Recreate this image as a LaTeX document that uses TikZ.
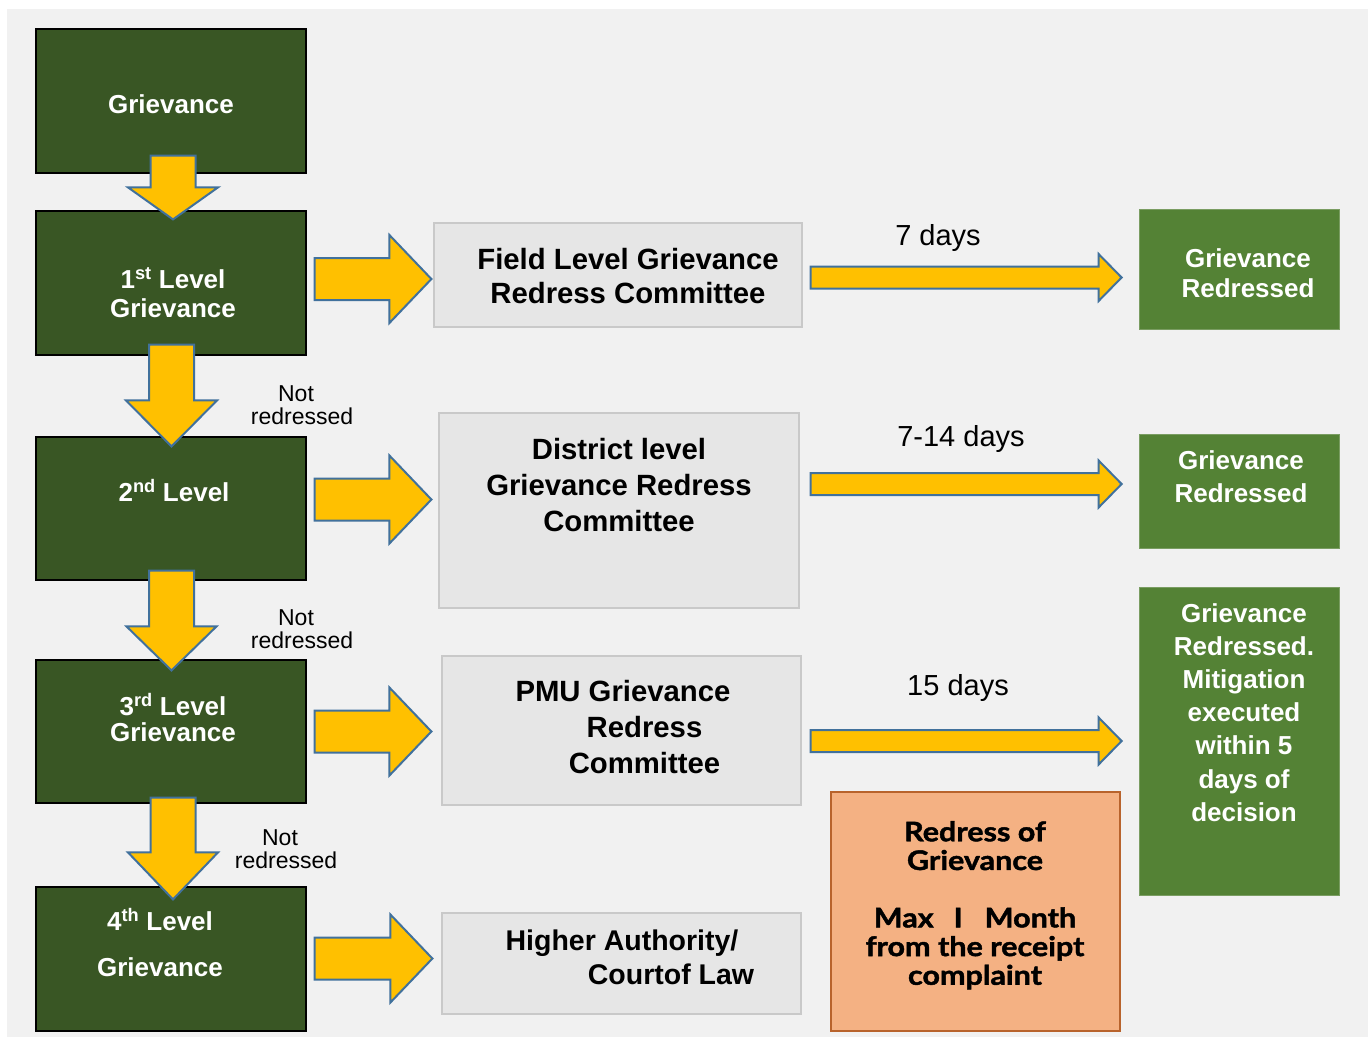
\documentclass[tikz,border=0pt]{standalone}
\usepackage{fontspec}
\setmainfont{Liberation Sans}
\newfontfamily\gillish[FakeStretch=1.13, BoldFeatures={FakeBold=1.6}]{Lato}
\usetikzlibrary{calc}
\definecolor{panel}{HTML}{F1F1F1}
\definecolor{dkgreen}{HTML}{395624}
\definecolor{ltgreen}{HTML}{548235}
\definecolor{ltgreenb}{HTML}{7A9D62}
\definecolor{grayfill}{HTML}{E6E6E6}
\definecolor{grayline}{HTML}{C9C9C9}
\definecolor{arrowfill}{HTML}{FFC000}
\definecolor{arrowline}{HTML}{41719C}
\definecolor{orangefill}{HTML}{F4B183}
\definecolor{orangeline}{HTML}{B8632C}
\tikzset{
  dgbox/.style={rectangle, draw=black, line width=1.2pt, fill=dkgreen, inner sep=0pt},
  lgbox/.style={rectangle, draw=ltgreenb, line width=0.8pt, fill=ltgreen, inner sep=0pt},
  gybox/.style={rectangle, draw=grayline, line width=1.2pt, fill=grayfill, inner sep=0pt},
  orbox/.style={rectangle, draw=orangeline, line width=1.4pt, fill=orangefill, inner sep=0pt},
  fat/.style={fill=arrowfill, draw=arrowline, line width=2pt, line join=miter},
  wtxt/.style={text=white, font=\fontsize{26}{29}\selectfont\bfseries, align=center, inner sep=0pt},
  btxt/.style={text=black, font=\fontsize{29.3}{36}\selectfont\bfseries, align=center, inner sep=0pt},
  daytxt/.style={text=black, font=\fontsize{29}{34}\selectfont, inner sep=0pt},
  nrtxt/.style={text=black, font=\fontsize{23}{23.5}\selectfont, align=center, inner sep=0pt},
  ortxt/.style={text=black, font=\fontsize{27}{28.7}\selectfont\gillish\bfseries, align=center, inner sep=0pt}
}
% horizontal block arrow: from node, to node, y, start gap, end gap, shaft half, head half, head length
\newcommand\hfat[8]{%
  \draw[fat] let \p1=(#1.east), \p2=(#2.west), \p3=(0,#3) in
  (\x1+#4pt,\y3+#6pt) -- (\x2-#5pt-#8pt,\y3+#6pt) -- (\x2-#5pt-#8pt,\y3+#7pt) --
  (\x2-#5pt,\y3) -- (\x2-#5pt-#8pt,\y3-#7pt) -- (\x2-#5pt-#8pt,\y3-#6pt) --
  (\x1+#4pt,\y3-#6pt) -- cycle;}
% vertical block arrow: from node, to node, x, top gap, tip gap, head half, head length
\newcommand\vfat[7]{%
  \draw[fat] let \p1=(#1.south), \p2=(#2.north), \p3=(#3,0) in
  (\x3-22.5pt,\y1+#4pt) -- (\x3+22.5pt,\y1+#4pt) -- (\x3+22.5pt,\y2-#5pt+#7pt) --
  (\x3+#6pt,\y2-#5pt+#7pt) -- (\x3,\y2-#5pt) -- (\x3-#6pt,\y2-#5pt+#7pt) --
  (\x3-22.5pt,\y2-#5pt+#7pt) -- cycle;}
\begin{document}
\begin{tikzpicture}[x=1pt,y=-1pt]
\useasboundingbox (0,0) rectangle (1370,1037);
\fill[white] (0,0) rectangle (1370,1037);
\fill[panel] (7,9) rectangle (1368,1037);

% left column
\node[dgbox, minimum width=270pt, minimum height=144pt] (g0) at (171,101) {};
\node[dgbox, minimum width=270pt, minimum height=144pt] (g1) at (171,283) {};
\node[dgbox, minimum width=270pt, minimum height=143pt] (g2) at (171,508.5) {};
\node[dgbox, minimum width=270pt, minimum height=143pt] (g3) at (171,731.5) {};
\node[dgbox, minimum width=270pt, minimum height=144pt] (g4) at (171,959) {};

% middle column
\node[gybox, minimum width=368pt, minimum height=104pt] (ga) at (618,275) {};
\node[gybox, minimum width=360pt, minimum height=195pt] (gb) at (619,510.5) {};
\node[gybox, minimum width=359pt, minimum height=149pt] (gc) at (621.5,730.5) {};
\node[gybox, minimum width=359pt, minimum height=101pt] (gd) at (621.5,963.5) {};

% right column
\node[lgbox, minimum width=200pt, minimum height=120pt] (r1) at (1239,269) {};
\node[lgbox, minimum width=200pt, minimum height=114pt] (r2) at (1239,491) {};
\node[lgbox, minimum width=200pt, minimum height=308pt] (r3) at (1239,741) {};
\node[orbox, minimum width=289pt, minimum height=239pt] (ob) at (975.5,911.5) {};

% texts
\node[wtxt] (t0) at (171,104) {Grievance};
\node[wtxt, anchor=north] (t1) at (173,267) {1\textsuperscript{st} Level\\Grievance};
\node[wtxt] (t2) at (174,491) {2\textsuperscript{nd} Level};
\node[wtxt, anchor=north, font=\fontsize{26}{26}\selectfont\bfseries] (t3) at (173,693) {3\textsuperscript{rd} Level\\Grievance};
\node[wtxt, anchor=north, font=\fontsize{26}{46}\selectfont\bfseries] (t4) at (160,908) {4\textsuperscript{th} Level\\Grievance};

\node[btxt, anchor=north, font=\fontsize{29.3}{34}\selectfont\bfseries] (ta) at (628,248) {Field Level Grievance\\Redress Committee};
\node[btxt, anchor=north] (tb) at (619,438) {District level\\Grievance Redress\\Committee};
\node[btxt, anchor=north] (tc) at (623,680) {PMU Grievance\\\hspace*{43pt}Redress\\\hspace*{43pt}Committee};
\node[btxt, anchor=north, font=\fontsize{28.5}{34}\selectfont\bfseries] (td) at (622,930) {Higher Authority/\\\hspace*{98pt}Courtof Law};

\node[wtxt, anchor=north, font=\fontsize{26}{30}\selectfont\bfseries] (tr1) at (1248,248) {Grievance\\Redressed};
\node[wtxt, anchor=north, font=\fontsize{26}{33}\selectfont\bfseries] (tr2) at (1241,450) {Grievance\\Redressed};
\node[wtxt, anchor=north, font=\fontsize{26}{33.2}\selectfont\bfseries] (tr3) at (1244,603) {Grievance\\Redressed.\\Mitigation\\executed\\within 5\\days of\\decision};

\node[ortxt, anchor=north] (to) at (975,821) {Redress of\\Grievance\\[28.7pt]Max\hspace{20pt}I\hspace{22pt}Month\\from the receipt\\complaint};

\node[daytxt, anchor=base] (d1) at (938,245) {7 days};
\node[daytxt, anchor=base] (d2) at (961,446) {7-14 days};
\node[daytxt, anchor=base] (d3) at (958,695) {15 days};

\node[nrtxt, anchor=north] (n1) at (302,385) {Not\hspace*{12pt}\\redressed};
\node[nrtxt, anchor=north] (n2) at (302,609) {Not\hspace*{12pt}\\redressed};
\node[nrtxt, anchor=north] (n3) at (286,829) {Not\hspace*{12pt}\\redressed};

% vertical block arrows
\vfat{g0}{g1}{173}{18}{9}{45}{32}
\vfat{g1}{g2}{171.5}{11}{10}{45.5}{46}
\vfat{g2}{g3}{171.5}{10}{11}{45}{44}
\vfat{g3}{g4}{173}{6}{13}{45}{47}

% horizontal block arrows
\hfat{g1}{ga}{279}{8}{2}{21}{44}{42}
\hfat{g2}{gb}{499.5}{8}{7}{21}{44}{42}
\hfat{g3}{gc}{731.5}{8}{10}{21}{44}{42}
\hfat{g4}{gd}{958.5}{8}{9}{21}{44}{42}

% long thin arrows
\hfat{ga}{r1}{277.5}{8}{17}{11}{23.5}{23}
\hfat{gb}{r2}{484}{11}{17}{11}{23.5}{23}
\hfat{gc}{r3}{741}{9}{17}{11}{23.5}{23}
\end{tikzpicture}
\end{document}
